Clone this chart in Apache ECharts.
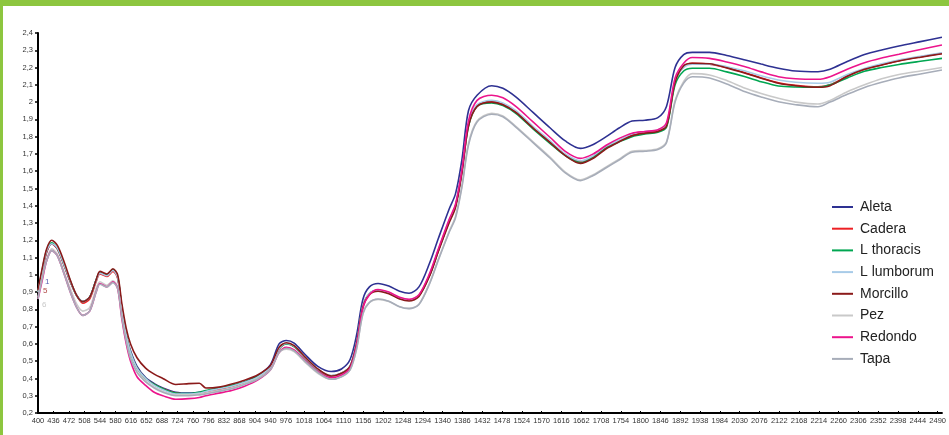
<!DOCTYPE html>
<html>
<head>
<meta charset="utf-8">
<script src="https://cdn.jsdelivr.net/npm/echarts@6/dist/echarts.min.js"></script>
<style>
html,body{margin:0;padding:0;background:#fff;}
#c{width:949px;height:435px;}
</style>
</head>
<body>
<div id="c"></div>
<script>
// Wavelength (nm) sample positions
const wavelengths = [400,410,420,432,445,460,475,490,504,520,
 535,544,560,574,585,595,605,615,630,650,
 670,690,720,750,775,790,820,850,880,910,
 940,960,977,995,1020,1050,1081,1105,1125,1140,
 1155,1170,1190,1215,1240,1262,1285,1310,1330,1355,
 1370,1385,1400,1420,1454,1480,1510,1550,1590,1625,
 1660,1690,1720,1750,1780,1810,1840,1860,1880,1900,
 1920,1960,2000,2043,2080,2120,2160,2212,2240,2280,
 2320,2360,2400,2450,2500];

const xTickLabels = [400,436,472,508,544,580,616,652,688,724,760,796,832,868,904,940,976,1018,1064,1110,1156,1202,1248,1294,1340,1386,1432,1478,1524,1570,1616,1662,1708,1754,1800,1846,1892,1938,1984,2030,2076,2122,2168,2214,2260,2306,2352,2398,2444,2490];

const seriesNames = ['Aleta','Cadera','L thoracis','L lumborum','Morcillo','Pez','Redondo','Tapa'];

const aleta = [0.90,1.02,1.13,1.18,1.15,1.06,0.96,0.88,0.845,0.87,
 0.97,1.01,1.0,1.025,0.985,0.80,0.65,0.56,0.47,0.405,
 0.37,0.345,0.32,0.315,0.32,0.325,0.34,0.358,0.38,0.415,
 0.48,0.60,0.62,0.605,0.54,0.47,0.44,0.455,0.51,0.65,
 0.86,0.93,0.95,0.935,0.905,0.893,0.93,1.07,1.21,1.38,
 1.47,1.67,1.95,2.04,2.095,2.08,2.03,1.94,1.85,1.775,
 1.732,1.755,1.80,1.85,1.89,1.895,1.91,1.975,2.20,2.275,
 2.288,2.288,2.27,2.244,2.22,2.196,2.18,2.176,2.19,2.235,
 2.275,2.302,2.325,2.35,2.375];

const cadera = [0.90,1.02,1.13,1.18,1.15,1.06,0.96,0.88,0.835,0.86,
 0.96,1.005,0.99,1.02,0.98,0.80,0.65,0.55,0.46,0.40,
 0.365,0.34,0.315,0.31,0.315,0.32,0.335,0.352,0.375,0.405,
 0.465,0.57,0.60,0.585,0.52,0.45,0.415,0.43,0.47,0.60,
 0.82,0.89,0.91,0.895,0.865,0.854,0.88,1.0,1.14,1.31,
 1.40,1.60,1.87,1.98,2.005,1.99,1.945,1.855,1.77,1.695,
 1.655,1.685,1.74,1.775,1.81,1.825,1.835,1.865,2.12,2.205,
 2.225,2.22,2.2,2.17,2.14,2.112,2.097,2.088,2.1,2.15,
 2.19,2.215,2.24,2.262,2.282];

const lThoracis = [0.90,1.03,1.14,1.185,1.155,1.065,0.965,0.88,0.845,0.87,
 0.97,1.015,1.0,1.03,0.99,0.80,0.65,0.55,0.46,0.40,
 0.365,0.34,0.315,0.312,0.32,0.33,0.345,0.36,0.38,0.41,
 0.465,0.57,0.60,0.585,0.52,0.45,0.415,0.43,0.47,0.60,
 0.82,0.89,0.91,0.895,0.865,0.854,0.88,1.0,1.14,1.31,
 1.40,1.60,1.86,1.975,1.995,1.98,1.935,1.845,1.76,1.69,
 1.65,1.68,1.735,1.77,1.80,1.815,1.825,1.855,2.10,2.18,
 2.196,2.196,2.175,2.147,2.118,2.093,2.087,2.086,2.1,2.14,
 2.178,2.2,2.218,2.236,2.253];

const lLumborum = [0.90,1.03,1.14,1.18,1.155,1.065,0.965,0.88,0.845,0.87,
 0.965,1.01,0.995,1.025,0.985,0.80,0.65,0.55,0.46,0.40,
 0.36,0.335,0.31,0.31,0.315,0.325,0.34,0.355,0.378,0.408,
 0.468,0.572,0.602,0.587,0.522,0.452,0.417,0.432,0.472,0.602,
 0.822,0.892,0.912,0.897,0.867,0.856,0.882,1.002,1.142,1.312,
 1.402,1.602,1.872,1.985,2.01,1.995,1.95,1.86,1.775,1.70,
 1.66,1.69,1.745,1.78,1.815,1.83,1.84,1.87,2.125,2.20,
 2.22,2.22,2.205,2.18,2.152,2.128,2.115,2.109,2.115,2.16,
 2.195,2.222,2.244,2.265,2.285];

const morcillo = [0.91,1.04,1.15,1.20,1.17,1.08,0.97,0.88,0.845,0.87,
 0.97,1.02,1.005,1.035,1.0,0.83,0.69,0.60,0.52,0.46,
 0.425,0.40,0.365,0.37,0.372,0.345,0.35,0.368,0.39,0.42,
 0.475,0.58,0.607,0.59,0.525,0.455,0.414,0.43,0.47,0.60,
 0.815,0.885,0.905,0.89,0.86,0.848,0.875,0.995,1.135,1.30,
 1.39,1.59,1.86,1.975,2.0,1.985,1.94,1.85,1.765,1.69,
 1.645,1.675,1.73,1.77,1.805,1.82,1.83,1.86,2.115,2.21,
 2.225,2.222,2.198,2.167,2.138,2.109,2.095,2.086,2.095,2.15,
 2.19,2.215,2.238,2.26,2.28];

const pez = [0.87,0.99,1.09,1.15,1.12,1.02,0.92,0.83,0.79,0.81,
 0.92,0.96,0.94,0.965,0.93,0.76,0.62,0.52,0.44,0.385,
 0.35,0.325,0.305,0.305,0.31,0.315,0.33,0.345,0.37,0.40,
 0.455,0.55,0.57,0.555,0.495,0.43,0.395,0.41,0.45,0.57,
 0.78,0.84,0.858,0.845,0.815,0.806,0.83,0.955,1.09,1.25,
 1.34,1.52,1.76,1.89,1.935,1.92,1.86,1.77,1.68,1.595,
 1.55,1.58,1.625,1.67,1.715,1.72,1.73,1.77,2.01,2.12,
 2.165,2.157,2.125,2.08,2.05,2.022,2.0,1.989,2.01,2.06,
 2.1,2.135,2.16,2.18,2.2];

const redondo = [0.86,0.97,1.08,1.14,1.11,1.01,0.90,0.81,0.765,0.79,
 0.90,0.95,0.93,0.96,0.92,0.74,0.60,0.50,0.41,0.36,
 0.32,0.30,0.28,0.283,0.29,0.30,0.315,0.33,0.355,0.39,
 0.45,0.55,0.58,0.565,0.505,0.44,0.405,0.42,0.46,0.59,
 0.81,0.885,0.915,0.90,0.87,0.858,0.885,1.01,1.15,1.32,
 1.41,1.61,1.89,2.01,2.04,2.025,1.975,1.885,1.795,1.715,
 1.674,1.70,1.75,1.79,1.82,1.83,1.84,1.88,2.14,2.225,
 2.258,2.253,2.232,2.205,2.175,2.147,2.135,2.132,2.147,2.19,
 2.228,2.255,2.277,2.305,2.331];

const tapa = [0.86,0.98,1.08,1.14,1.11,1.01,0.90,0.81,0.765,0.79,
 0.90,0.945,0.93,0.955,0.92,0.75,0.615,0.515,0.435,0.38,
 0.345,0.32,0.30,0.30,0.305,0.31,0.325,0.34,0.365,0.395,
 0.45,0.55,0.575,0.56,0.50,0.435,0.395,0.41,0.45,0.57,
 0.775,0.84,0.86,0.847,0.815,0.804,0.828,0.95,1.085,1.245,
 1.33,1.51,1.75,1.885,1.93,1.915,1.855,1.765,1.675,1.59,
 1.545,1.575,1.62,1.665,1.71,1.715,1.725,1.765,2.0,2.11,
 2.147,2.14,2.105,2.06,2.03,2.002,1.985,1.973,2.0,2.045,
 2.085,2.115,2.14,2.163,2.186];

const seriesValues = [aleta, cadera, lThoracis, lLumborum, morcillo, pez, redondo, tapa];
const seriesColors = ['#2e3192','#ed2024','#00a651','#a8cbe8','#8b1a1a','#c9c9c9','#ec148c','#a7adb9'];

const chart = echarts.init(document.getElementById('c'), null, {renderer:'canvas'});

const series = seriesNames.map((name, i) => ({
  name: name,
  type: 'line',
  data: wavelengths.map((w, j) => [w, seriesValues[i][j]]),
  showSymbol: false,
  smooth: 0.3,
  lineStyle: {width: 1.6, color: seriesColors[i]},
  itemStyle: {color: seriesColors[i]},
  z: 2
}));

const fmtComma = v => String(Math.round(v * 10) / 10).replace('.', ',');

chart.setOption({
  animation: false,
  backgroundColor: '#ffffff',
  textStyle: {fontFamily: 'Liberation Sans, Arial, sans-serif'},
  grid: {left: 38, right: 6, top: 33, bottom: 22, containLabel: false},
  xAxis: {
    type: 'value', min: 400, max: 2500,
    axisLine: {show: true, onZero: false, lineStyle: {color: '#000', width: 2}},
    axisTick: {show: true, customValues: xTickLabels, length: 2, inside: true, lineStyle: {color: '#000'}},
    axisLabel: {customValues: xTickLabels, formatter: v => String(v), fontSize: 7.5, color: '#333', margin: 4, fontFamily: 'Liberation Sans, Arial, sans-serif'},
    splitLine: {show: false}
  },
  yAxis: {
    type: 'value', min: 0.2, max: 2.4, interval: 0.1,
    axisLine: {show: true, lineStyle: {color: '#000', width: 2}},
    axisTick: {show: true, length: 3, lineStyle: {color: '#000', width: 1.5}},
    axisLabel: {fontSize: 7.5, color: '#333', margin: 5, formatter: fmtComma, fontFamily: 'Liberation Sans, Arial, sans-serif'},
    splitLine: {show: false}
  },
  legend: {
    orient: 'vertical', left: 832, top: 200, padding: 0,
    icon: 'rect', itemWidth: 21, itemHeight: 2, itemGap: 7.7,
    textStyle: {fontSize: 14, color: '#222', lineHeight: 14, padding: [0,0,0,2], fontFamily: 'Liberation Sans, Arial, sans-serif'},
    data: seriesNames
  },
  graphic: [
    {type: 'rect', left: 0, top: 0, shape: {width: 949, height: 6}, style: {fill: '#8dc63f'}, z: 100},
    {type: 'rect', left: 0, top: 0, shape: {width: 3, height: 435}, style: {fill: '#8dc63f'}, z: 100},
    {type: 'text', left: 45, top: 278, style: {text: '1', fill: '#5a64b4', fontSize: 8, fontFamily: 'Liberation Sans, Arial, sans-serif'}, z: 100},
    {type: 'text', left: 43, top: 287, style: {text: '5', fill: '#b04a46', fontSize: 8, fontFamily: 'Liberation Sans, Arial, sans-serif'}, z: 100},
    {type: 'text', left: 42, top: 301, style: {text: '6', fill: '#c8c8c8', fontSize: 8, fontFamily: 'Liberation Sans, Arial, sans-serif'}, z: 100}
  ],
  series: series
});
</script>
</body>
</html>
